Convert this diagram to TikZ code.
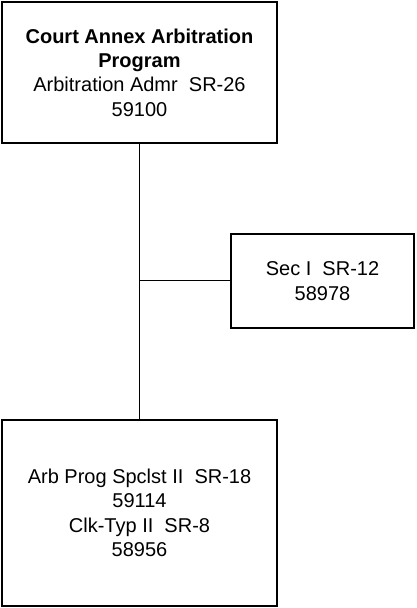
\documentclass[tikz,border=0pt]{standalone}
\usepackage{fontspec}
\setmainfont{Liberation Sans}
\usepackage{tikz}
\usetikzlibrary{positioning,calc}

\begin{document}
\begin{tikzpicture}[x=0.5pt,y=-0.5pt,
      box/.style={draw=black,line width=0.8pt,align=center,inner sep=0pt,
                  font=\fontsize{10}{12.2}\selectfont},
      link/.style={draw=black,line width=0.5pt}]
      \useasboundingbox (0,0) rectangle (416,608);
      % Top box
      \node[box,minimum width=137.5pt,minimum height=70.5pt] (admr) at (139.5,72.5)
        {\textbf{Court Annex Arbitration}\\\textbf{Program}\\Arbitration Admr~ SR-26\\59100};
      % Side box
      \node[box,minimum width=91.5pt,minimum height=47pt] (sec) at (322.5,281)
        {Sec I~ SR-12\\58978};
      % Bottom box
      \node[box,minimum width=137.5pt,minimum height=93pt] (arb) at (139.5,513)
        {Arb Prog Spclst II~ SR-18\\59114\\Clk-Typ II~ SR-8\\58956};
      % Connectors
      \coordinate (jn) at (admr.south |- sec.west);
      \draw[link] (admr.south) -- (arb.north);
      \draw[link] (jn) -- (sec.west);
    \end{tikzpicture}
\end{document}
